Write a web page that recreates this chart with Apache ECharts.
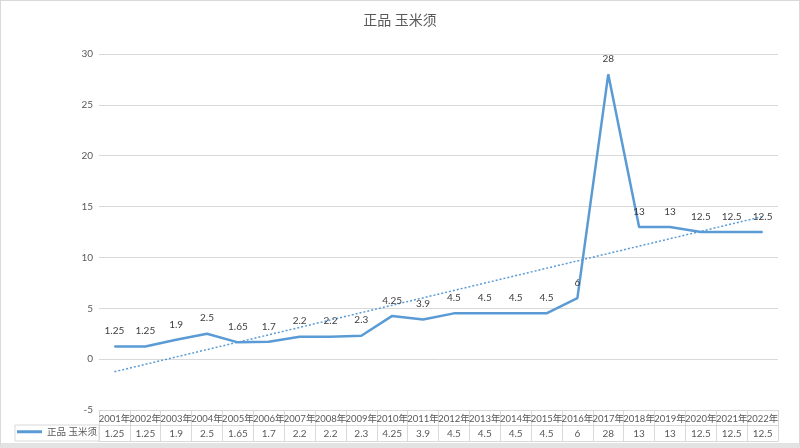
<!DOCTYPE html>
<html><head><meta charset="utf-8">
<script src="https://cdn.jsdelivr.net/npm/echarts@6/dist/echarts.min.js"></script>
<style>
html,body{margin:0;padding:0;background:#fff;}
#c{width:800px;height:448px;box-sizing:border-box;border:1px solid #d9d9d9;border-bottom:5px solid #e3e3e3;}
</style></head>
<body><div id="c"></div>
<script>
const titleText = '正品 玉米须';
const seriesName = '正品 玉米须';
const categories = ['2001年','2002年','2003年','2004年','2005年','2006年','2007年','2008年','2009年','2010年','2011年','2012年','2013年','2014年','2015年','2016年','2017年','2018年','2019年','2020年','2021年','2022年'];
const values = [1.25,1.25,1.9,2.5,1.65,1.7,2.2,2.2,2.3,4.25,3.9,4.5,4.5,4.5,4.5,6,28,13,13,12.5,12.5,12.5];
const trendEnds = [-1.24, 14.02]; // linear trendline at first and last category
const yTicks = {min:-5, max:30, interval:5};

const FONT = "Lato, 'Noto Sans CJK SC', sans-serif";
const grey = '#595959';
const lineC = '#d9d9d9';
const blue = '#5B9BD5';

const trendData = categories.map((c,i)=> i===0 ? trendEnds[0] : (i===categories.length-1 ? trendEnds[1] : null));

const chart = echarts.init(document.getElementById('c'));
chart.setOption({
  animation:false,
  textStyle:{fontFamily:FONT},
  title:{text:titleText,left:'center',top:7,textStyle:{fontSize:14,fontWeight:'normal',color:grey,fontFamily:FONT}},
  legend:{data:[seriesName],left:16,top:426,padding:0,itemWidth:25,itemHeight:3,icon:'rect',itemGap:5,
    textStyle:{fontSize:9.5,color:grey,fontFamily:FONT}},
  grid:{left:98,right:21,top:53,bottom:33},
  xAxis:[
    {type:'category',data:categories,position:'bottom',
     axisLine:{show:true,onZero:false,lineStyle:{color:lineC}},
     axisTick:{show:true,length:31,alignWithLabel:false,interval:0,lineStyle:{color:lineC}},
     axisLabel:{interval:0,margin:4,fontSize:9.5,color:grey,fontFamily:FONT}},
    {type:'category',data:values.map(String),position:'bottom',offset:15,
     axisLine:{show:true,onZero:false,lineStyle:{color:lineC}},
     axisTick:{show:false},
     axisLabel:{interval:0,margin:4,fontSize:10,color:grey,fontFamily:FONT}},
    {type:'category',data:categories,position:'bottom',offset:31,
     axisLine:{show:true,onZero:false,lineStyle:{color:lineC}},
     axisTick:{show:false},axisLabel:{show:false}}
  ],
  yAxis:{type:'value',min:yTicks.min,max:yTicks.max,interval:yTicks.interval,
    axisLine:{show:false},axisTick:{show:false},
    axisLabel:{fontSize:10,color:grey,margin:6,fontFamily:FONT},
    splitLine:{lineStyle:{color:lineC}}},
  graphic:[{type:'rect',shape:{x:14,y:424,width:84,height:16},style:{fill:'none',stroke:lineC,lineWidth:1},silent:true}],
  series:[
    {name:seriesName,type:'line',data:values,xAxisIndex:0,
     lineStyle:{color:blue,width:2.5},itemStyle:{color:blue},
     showSymbol:true,symbol:'circle',symbolSize:1,
     label:{show:true,position:'top',distance:10,fontSize:10,color:'#404040',fontFamily:FONT}},
    {name:'trend',type:'line',data:trendData,connectNulls:true,xAxisIndex:0,
     lineStyle:{color:blue,width:1.5,type:[2,2]},showSymbol:false,symbol:'none',silent:true}
  ]
});
</script></body></html>
